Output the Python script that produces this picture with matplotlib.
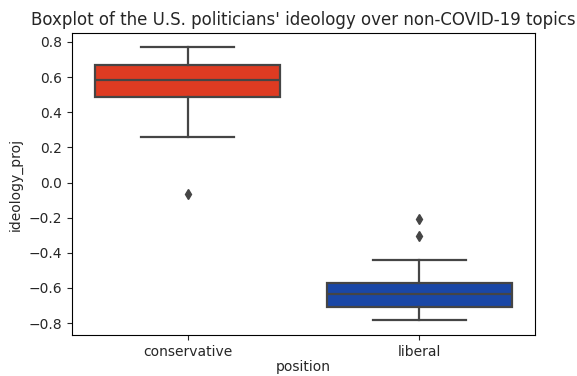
import matplotlib
matplotlib.use("Agg")
import matplotlib.pyplot as plt

# Summary statistics of ideology_proj per position
positions = ["conservative", "liberal"]
whisker_low = [0.260, -0.783]
q1 = [0.487, -0.709]
median = [0.584, -0.635]
q3 = [0.669, -0.572]
whisker_high = [0.772, -0.441]
outliers = [[-0.065], [-0.208, -0.305]]
box_colors = ["#DE3B22", "#1A47A6"]

yticks = [0.8, 0.6, 0.4, 0.2, 0.0, -0.2, -0.4, -0.6, -0.8]

W, H, DPI = 577, 376, 100
fig = plt.figure(figsize=(W / DPI, H / DPI), dpi=DPI)
ax = fig.add_axes([72 / W, 1 - 335 / H, (535 - 72) / W, (335 - 33) / H])

stats = []
for i, name in enumerate(positions):
    stats.append(dict(label=name, whislo=whisker_low[i], q1=q1[i], med=median[i],
                      q3=q3[i], whishi=whisker_high[i], fliers=outliers[i]))

line_color = "#454545"
bp = ax.bxp(stats, positions=range(len(positions)), widths=0.8, patch_artist=True,
            boxprops=dict(edgecolor=line_color, linewidth=1.6),
            medianprops=dict(color=line_color, linewidth=1.6),
            whiskerprops=dict(color=line_color, linewidth=1.6),
            capprops=dict(color=line_color, linewidth=1.6),
            flierprops=dict(marker="d", markerfacecolor=line_color, markeredgecolor=line_color,
                            markersize=5),
            capwidths=0.4)
for patch, c in zip(bp["boxes"], box_colors):
    patch.set_facecolor(c)

ax.set_xlim(-0.5, 1.5)
ax.set_ylim(-0.868, 0.851)
ax.set_yticks(yticks)
ax.set_xticks(range(len(positions)))
ax.set_xticklabels(positions)
ax.tick_params(labelsize=10, colors="#262626", labelcolor="#262626")
ax.set_xlabel("position", fontsize=10, color="#262626", labelpad=1)
ax.set_ylabel("ideology_proj", fontsize=10, color="#262626")
ax.set_title("Boxplot of the U.S. politicians' ideology over non-COVID-19 topics",
             fontsize=12, color="#262626")

fig.savefig("out.png", dpi=DPI)
